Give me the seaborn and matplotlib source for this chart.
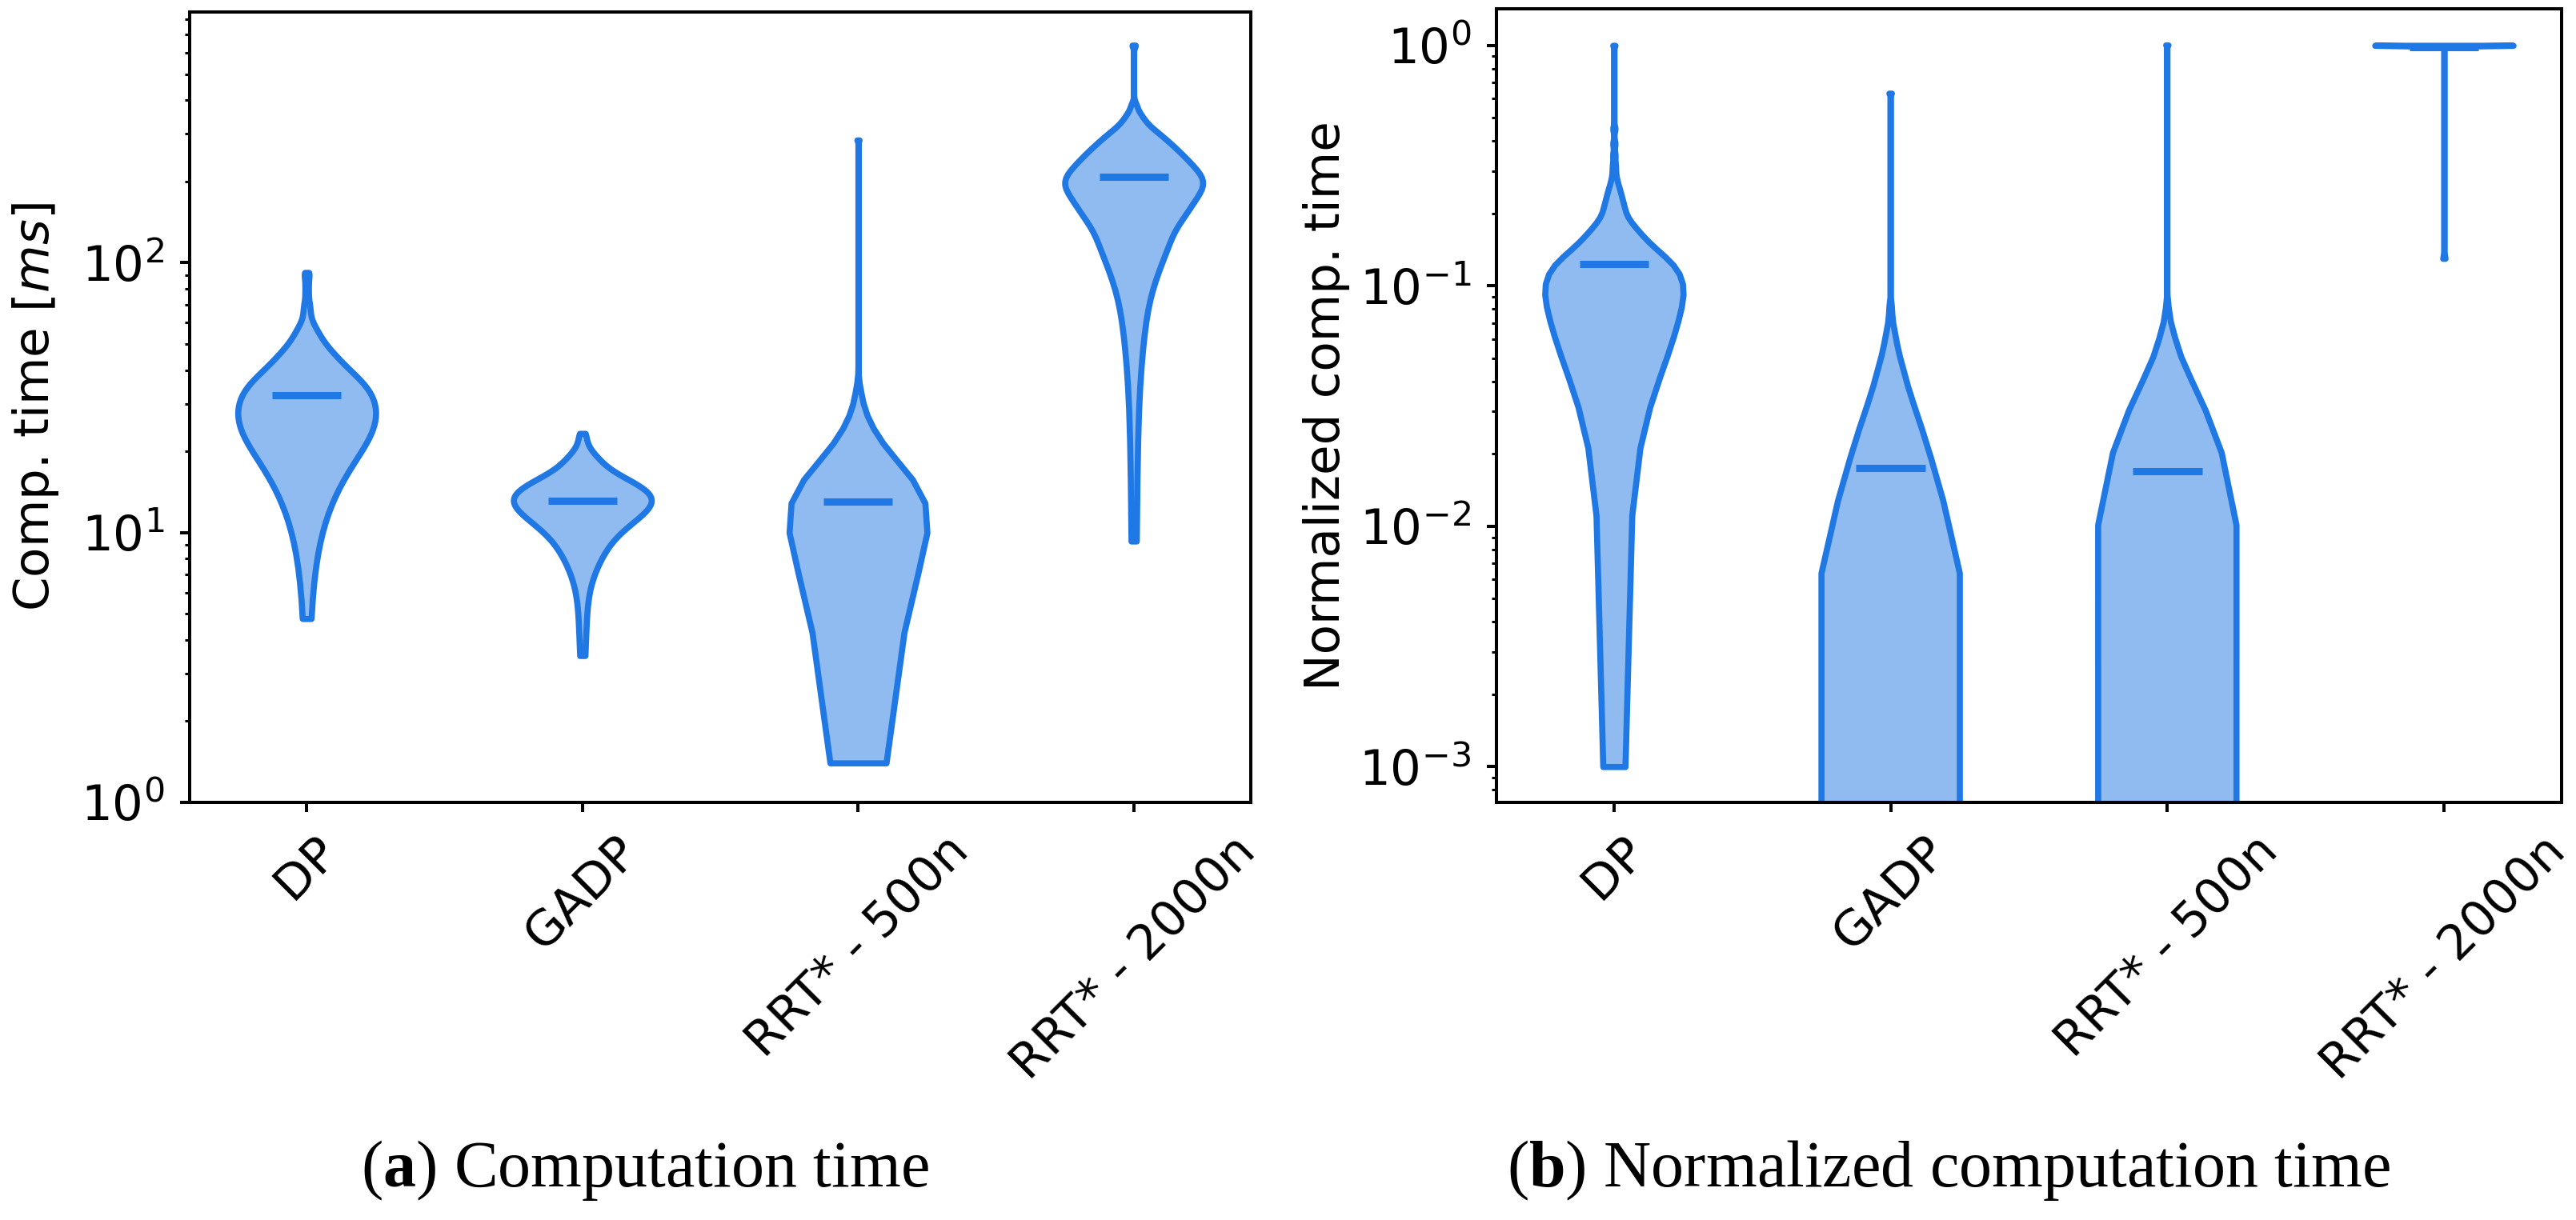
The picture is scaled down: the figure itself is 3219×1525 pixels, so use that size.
import numpy as np
import matplotlib
matplotlib.use('Agg')
import matplotlib.pyplot as plt
import seaborn as sns

methods = ['DP', 'GADP', 'RRT* - 500n', 'RRT* - 2000n']

# (a) computation time [ms]: sample values and how many runs fall on each
dp_ms = [4.8, 8, 11, 14, 17, 20, 23, 26, 29, 32, 35, 38, 41, 44, 47, 50, 53, 56, 59,
         62, 65, 68, 71, 74, 77, 80, 83, 86, 89, 92]
dp_ms_n = [1, 2, 5, 8, 12, 16, 19, 20, 20, 19, 17, 14, 11, 9, 7, 5, 4, 3, 2,
           1, 1, 1, 1, 0, 1, 0, 1, 0, 1, 1]
gadp_ms = [3.5, 4.5, 5.5, 6.5, 7.5, 8.5, 9.5, 10.5, 11.5, 12.5, 13.5, 14.5, 15.5,
           16.5, 17.5, 18.5, 19.5, 20.5, 21.5, 22.5, 23.3]
gadp_ms_n = [1, 1, 1, 2, 4, 6, 8, 12, 16, 19, 20, 17, 13, 9, 6, 5, 3, 2, 1, 1, 1]
rrt500_ms = [1.4, 3.4, 5.4, 7.4, 9.4, 11.4, 13.4, 15.4, 17.4, 19.4, 21.4, 23.4, 25.4,
             27.4, 29.4, 31.4, 33.4, 285]
rrt500_ms_n = [10, 11, 13, 16, 19, 20, 18, 15, 11, 8, 6, 4, 3, 2, 1, 1, 1, 1]
rrt2000_ms = [9.3, 25, 40, 55, 70, 85, 100, 115, 130, 145, 160, 175, 190, 205, 220,
              235, 250, 265, 280, 295, 310, 325, 340, 355, 370, 385, 640]
rrt2000_ms_n = [1, 1, 2, 3, 4, 6, 8, 10, 11, 14, 16, 18, 20, 20, 18,
                16, 14, 12, 10, 8, 6, 4, 3, 2, 1, 1, 1]
time_means = [32.4, 13.1, 13.05, 208]

# (b) normalized computation time
dp_norm = [0.001, 0.01, 0.02, 0.03, 0.04, 0.05, 0.06, 0.07, 0.08, 0.09, 0.10, 0.11,
           0.12, 0.13, 0.14, 0.15, 0.16, 0.17, 0.18, 0.19, 0.20, 0.21, 0.22, 0.23,
           0.24, 0.25, 0.26, 0.27, 0.28, 0.30, 0.32, 0.35, 0.39, 0.45, 1.0]
dp_norm_n = [4, 4, 6, 10, 13, 15, 17, 18, 19, 20, 20, 19,
             18, 15, 12, 10, 8, 7, 5, 4, 3, 3, 3, 2,
             2, 2, 1, 1, 1, 1, 1, 1, 1, 1, 1]
gadp_norm = [0.0, 0.005, 0.01, 0.015, 0.02, 0.025, 0.03, 0.035, 0.04, 0.045, 0.05,
             0.055, 0.06, 0.065, 0.07, 0.08, 0.63]
gadp_norm_n = [36, 22, 18, 15, 12, 10, 8, 6, 5, 4, 3, 2, 2, 1, 1, 1, 1]
rrt500_norm = [0.0, 0.005, 0.01, 0.015, 0.02, 0.025, 0.03, 0.035, 0.04, 0.045, 0.05,
               0.055, 0.06, 0.065, 0.07, 0.08, 1.0]
rrt500_norm_n = [30, 21, 20, 18, 16, 13, 11, 9, 7, 5, 4, 3, 2, 2, 1, 1, 1]
rrt2000_norm = [0.13, 0.99, 1.0]
rrt2000_norm_n = [1, 3, 60]
norm_means = [0.1236, 0.0174, 0.0169, 0.985]

time_samples = [np.repeat(dp_ms, dp_ms_n), np.repeat(gadp_ms, gadp_ms_n),
                np.repeat(rrt500_ms, rrt500_ms_n), np.repeat(rrt2000_ms, rrt2000_ms_n)]
norm_samples = [np.repeat(dp_norm, dp_norm_n), np.repeat(gadp_norm, gadp_norm_n),
                np.repeat(rrt500_norm, rrt500_norm_n), np.repeat(rrt2000_norm, rrt2000_norm_n)]

# kde smoothing per violin
time_bw = [0.7, 0.85, 0.35, 0.5]
norm_bw = [0.45, 0.25, 0.21, 0.085]

edge = '#1f78e3'
fill = '#8fbbf1'

sns.set_style('ticks', rc={'axes.edgecolor': 'black', 'xtick.color': 'black',
                           'ytick.color': 'black', 'text.color': 'black',
                           'axes.labelcolor': 'black'})
plt.rcParams['font.family'] = ['DejaVu Sans']
plt.rcParams['mathtext.fontset'] = 'custom'
plt.rcParams['mathtext.bf'] = 'Liberation Serif:bold'
plt.rcParams['mathtext.it'] = 'DejaVu Sans:italic'

fig = plt.figure(figsize=(32.19, 15.25), dpi=100)
ax1 = fig.add_axes([0.0736, 0.3423, 0.4120, 0.6479])
ax2 = fig.add_axes([0.5809, 0.3423, 0.4135, 0.6505])


def draw(ax, samples, bws, means):
    for name, y, bw in zip(methods, samples, bws):
        sns.violinplot(x=[name] * len(y), y=y, order=methods, ax=ax,
                       color=fill, linecolor=edge, linewidth=5.5, inner=None,
                       cut=0, density_norm='width', width=0.5, bw_adjust=bw,
                       saturation=1)
    pos = np.arange(len(methods))
    ax.hlines(means, pos - 0.125, pos + 0.125, colors=edge, linewidth=6.5, zorder=3)
    ax.set_yscale('log')
    ax.set_xlim(-0.425, 3.425)
    ax.set_xlabel('')
    ax.tick_params(axis='both', which='major', labelsize=44, length=8.6, width=2.9, pad=14)
    ax.tick_params(axis='y', which='minor', length=4.3, width=2.2)
    ax.tick_params(axis='x', labelrotation=45)
    for s in ax.spines.values():
        s.set_linewidth(2.9)


draw(ax1, time_samples, time_bw, time_means)
ax1.set_ylim(1, 850)
ax1.set_ylabel('Comp. time [$ms$]', fontsize=44)
ax1.yaxis.set_label_coords(-0.121, 0.5)

draw(ax2, norm_samples, norm_bw, norm_means)
ax2.set_ylim(7.1e-4, 1.42)
ax2.set_ylabel('Normalized comp. time', fontsize=44)
ax2.yaxis.set_label_coords(-0.1375, 0.5)

cap = dict(ha='center', va='baseline', fontsize=59, family='Liberation Serif')
fig.text(0.2504, 0.0275, r'($\mathbf{a}$) Computation time', **cap)
fig.text(0.7565, 0.0275, r'($\mathbf{b}$) Normalized computation time', **cap)

fig.savefig('out.png', dpi=100)
